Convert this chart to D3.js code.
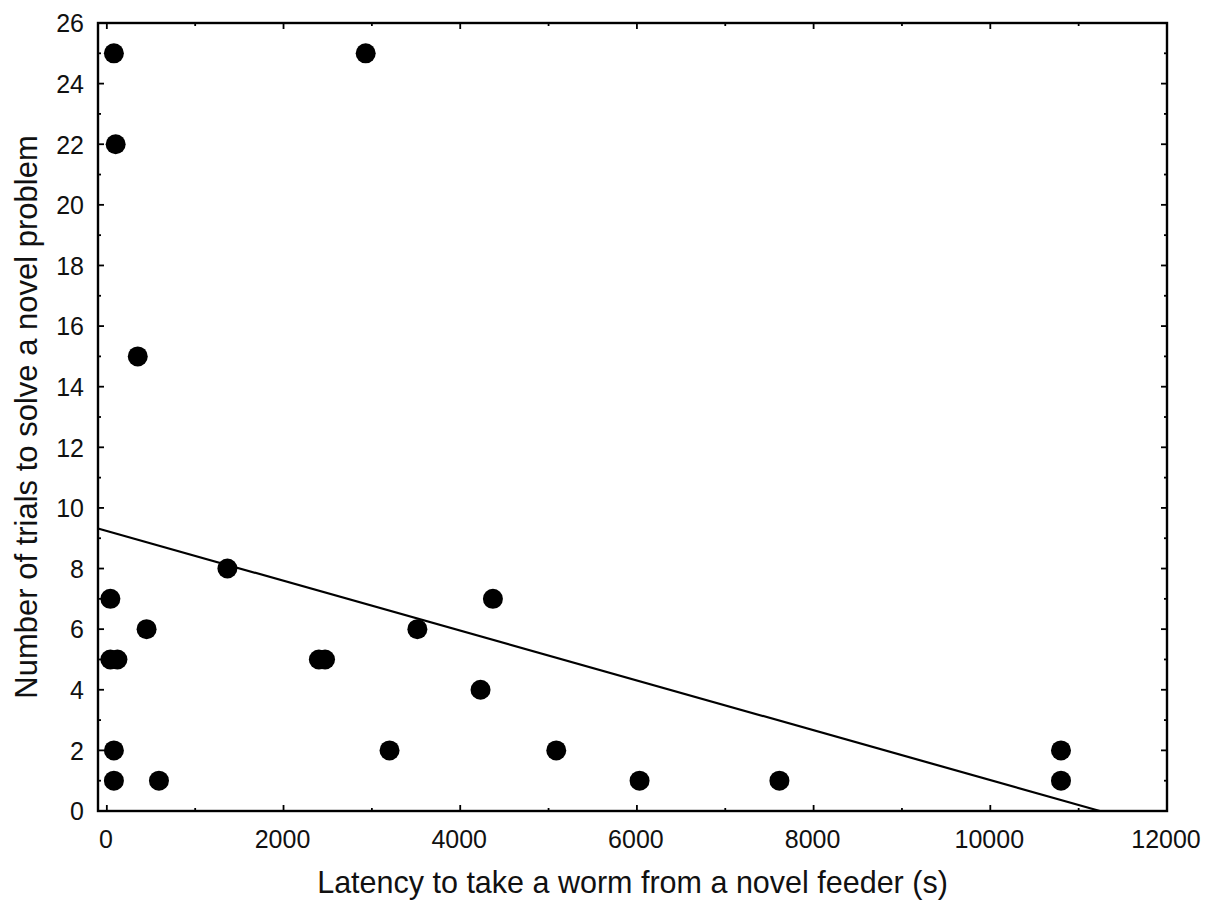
<!DOCTYPE html>
<html><head><meta charset="utf-8">
<script src="https://cdn.jsdelivr.net/npm/d3@7/dist/d3.min.js"></script>
<style>body{margin:0;background:#fff;} text{font-family:"Liberation Sans",Arial,sans-serif;fill:#111;}</style>
</head><body>
<svg id="c" width="1210" height="903"></svg>
<script>
const latency = [80, 100, 350, 2930, 1365, 40, 450, 40, 120, 2400, 2470, 80, 80, 590, 3515, 4370, 4230, 3200, 5087, 6030, 7613, 10800, 10800];
const trials  = [25, 22, 15, 25, 8, 7, 6, 5, 5, 5, 5, 2, 1, 1, 6, 7, 4, 2, 2, 1, 1, 2, 1];
const fitIntercept = 9.24;
const fitSlope = -0.000822;
const xTicks = [0, 2000, 4000, 6000, 8000, 10000, 12000];
const yTicks = [0, 2, 4, 6, 8, 10, 12, 14, 16, 18, 20, 22, 24, 26];
const xLabel = "Latency to take a worm from a novel feeder (s)";
const yLabel = "Number of trials to solve a novel problem";

const svg = d3.select("#c");
const L = 98, R = 1167, T = 23, B = 811;
const x = d3.scaleLinear().domain([-100, 12000]).range([L, R]);
const y = d3.scaleLinear().domain([0, 26]).range([B, T]);

const g = svg.append("g");
const xMinor = d3.range(1000, 12000, 2000);
const yMinor = d3.range(1, 26, 2);

function ticks(sel, vals, len, pos) {
  sel.selectAll(null).data(vals).enter().append("line")
    .attr("stroke", "#000").attr("stroke-width", 1.8)
    .each(function(d){
      const s = d3.select(this);
      if (pos === "bottom") s.attr("x1", x(d)).attr("x2", x(d)).attr("y1", B).attr("y2", B - len);
      if (pos === "top") s.attr("x1", x(d)).attr("x2", x(d)).attr("y1", T).attr("y2", T + len);
      if (pos === "left") s.attr("y1", y(d)).attr("y2", y(d)).attr("x1", L).attr("x2", L + len);
      if (pos === "right") s.attr("y1", y(d)).attr("y2", y(d)).attr("x1", R).attr("x2", R - len);
    });
}
ticks(g, xTicks.filter(d=>d<12000), 6, "bottom");
ticks(g, xMinor, 3, "bottom");
ticks(g, xTicks.filter(d=>d<12000), 6, "top");
ticks(g, xMinor, 3, "top");
ticks(g, yTicks.filter(d=>d>0 && d<26), 6, "left");
ticks(g, yMinor, 3, "left");
ticks(g, yTicks.filter(d=>d>0 && d<26), 6, "right");
ticks(g, yMinor, 3, "right");

g.append("rect").attr("x", L).attr("y", T).attr("width", R - L).attr("height", B - T)
  .attr("fill", "none").attr("stroke", "#000").attr("stroke-width", 2.4);

// tick labels
g.selectAll(null).data(xTicks).enter().append("text")
  .attr("x", d => x(d) - 1).attr("y", 848)
  .attr("text-anchor", "middle").attr("font-size", 25).text(d => d);
g.selectAll(null).data(yTicks).enter().append("text")
  .attr("x", 84).attr("y", d => y(d) + 9.3)
  .attr("text-anchor", "end").attr("font-size", 25).text(d => d);

// fit line
const xEnd = -fitIntercept / fitSlope;
g.append("line")
  .attr("x1", x(-100)).attr("y1", y(fitIntercept + fitSlope * -100))
  .attr("x2", x(xEnd)).attr("y2", y(0))
  .attr("stroke", "#000").attr("stroke-width", 2.2);

// points
g.selectAll(null).data(latency.map((d,i)=>[d, trials[i]])).enter().append("circle")
  .attr("cx", d => x(d[0])).attr("cy", d => y(d[1])).attr("r", 10).attr("fill", "#000");

// axis titles
svg.append("text").attr("x", (L + R) / 2).attr("y", 893)
  .attr("text-anchor", "middle").attr("font-size", 30.5).text(xLabel);
svg.append("text").attr("transform", `translate(37,${(T + B) / 2}) rotate(-90)`)
  .attr("text-anchor", "middle").attr("font-size", 31).text(yLabel);
</script>
</body></html>
